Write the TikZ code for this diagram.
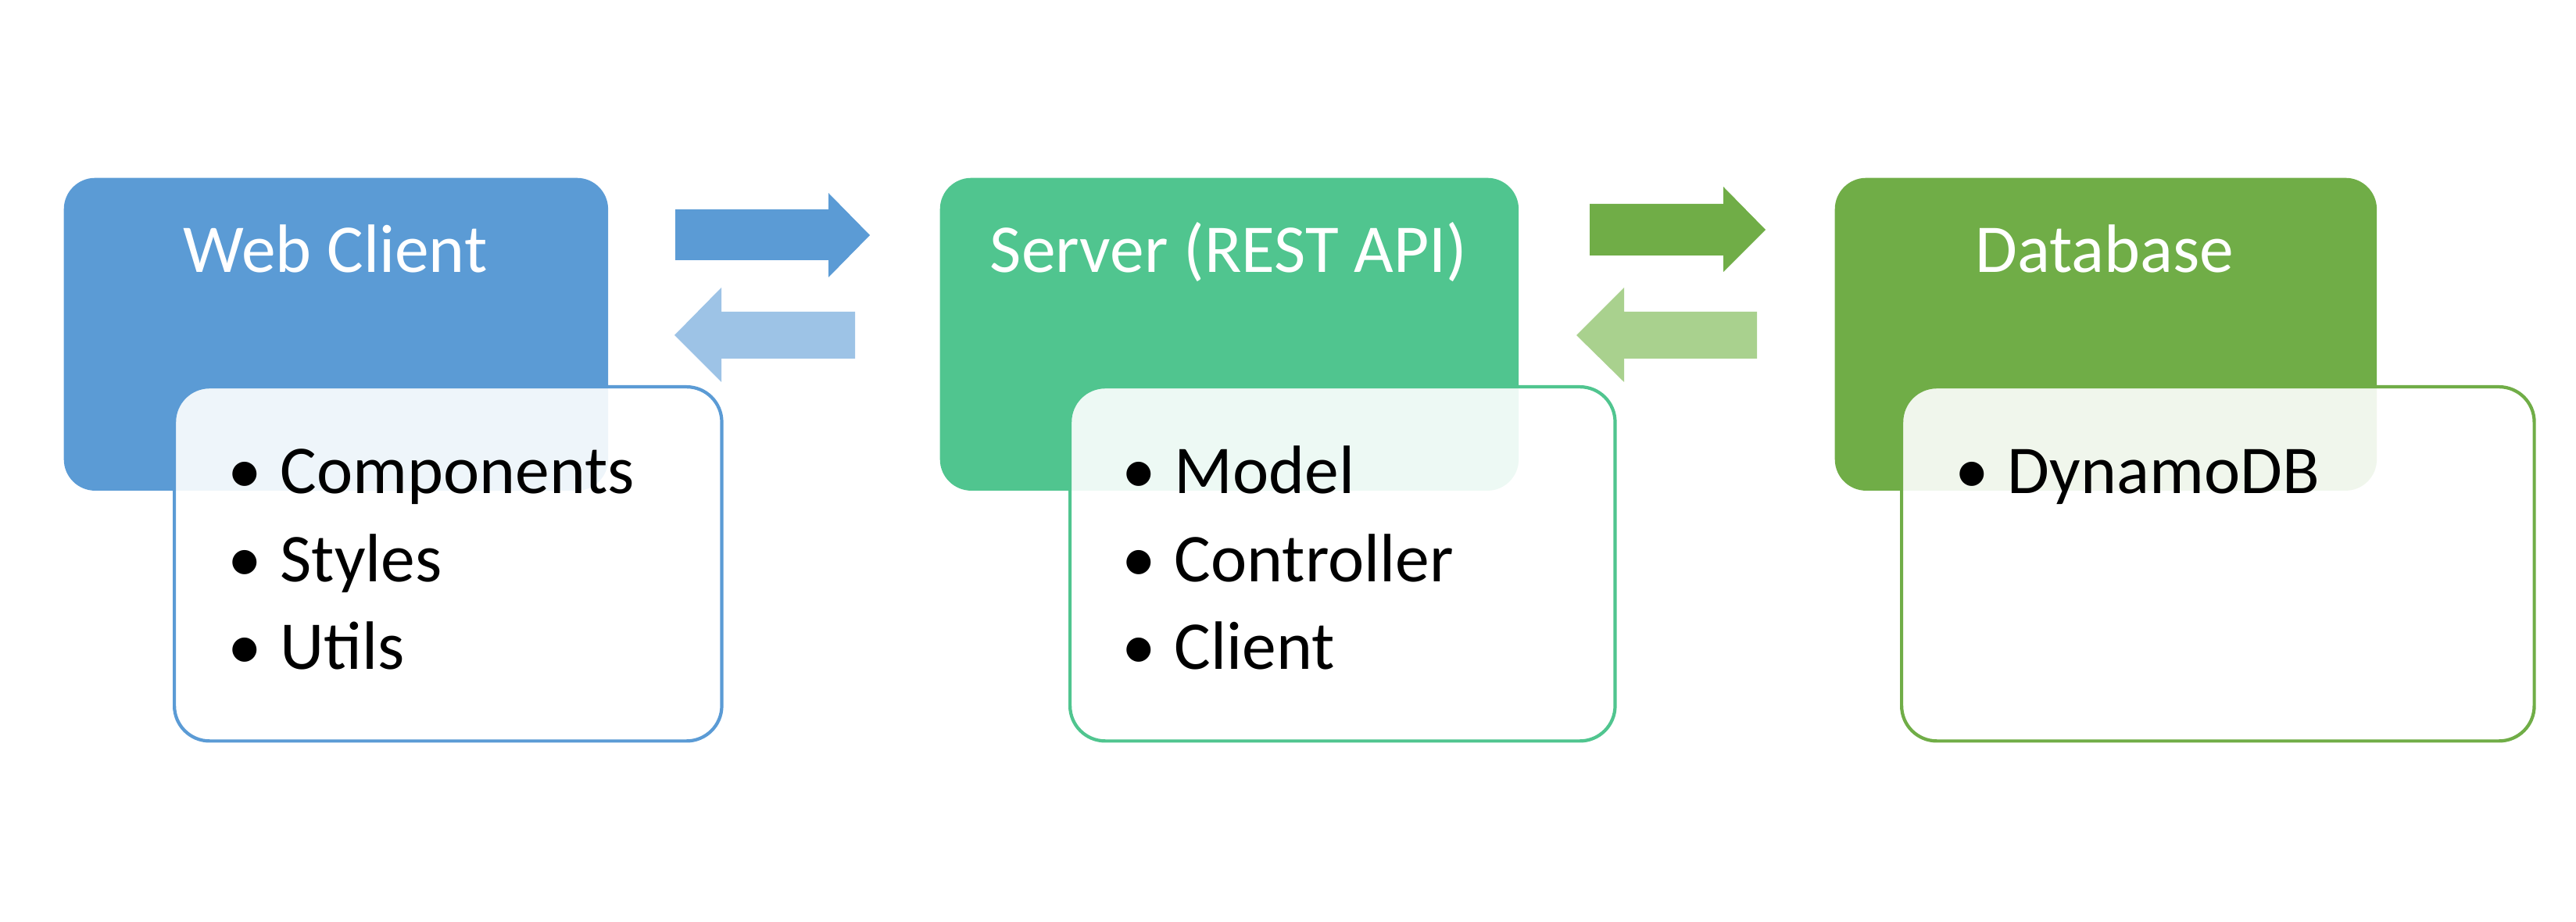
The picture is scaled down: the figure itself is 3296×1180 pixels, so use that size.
\documentclass[tikz,border=0pt]{standalone}
\usepackage{fontspec}
\setmainfont{Carlito}
\definecolor{cblue}{HTML}{5B9BD5}
\definecolor{clblue}{HTML}{9DC3E6}
\definecolor{cteal}{HTML}{50C58F}
\definecolor{cgreen}{HTML}{70AD47}
\definecolor{clgreen}{HTML}{A9D18E}
\tikzset{
  mainbox/.style={rectangle, rounded corners=0.4cm, anchor=north west, inner sep=0pt},
  listbox/.style={rectangle, rounded corners=0.45cm, anchor=north west, inner sep=0pt, fill=white, fill opacity=0.9, line width=1.2pt},
  title/.style={anchor=base, text=white, inner sep=0pt, font=\fontsize{24.9}{30}\selectfont},
  item/.style={anchor=base west, inner sep=0pt, text=black, font=\fontsize{24.9}{30}\selectfont},
}
\newcommand{\bul}[1]{\makebox[0.67cm][l]{\textbullet}#1}
\begin{document}
\begin{tikzpicture}[x=0.01cm, y=-0.01cm]
\useasboundingbox (0,0) rectangle (3296,1180);
% Web Client
\node[mainbox, fill=cblue, minimum width=6.96cm, minimum height=4.0cm] (wcbox) at (81,227) {};
\node[title] (wct) at (429,349) {Web Client};
\node[listbox, draw=cblue, minimum width=7.0cm, minimum height=4.53cm] (wclist) at (221,493) {};
\node[item] (wc1) at (291,632) {\bul{Components}};
\node[item] (wc2) at (291,745) {\bul{Styles}};
\node[item] (wc3) at (291,857) {\bul{Utils}};
% Server
\node[mainbox, fill=cteal, minimum width=7.4cm, minimum height=4.0cm] (svbox) at (1202,227) {};
\node[title] (svt) at (1572,349) {Server (REST API)};
\node[listbox, draw=cteal, minimum width=6.97cm, minimum height=4.53cm] (svlist) at (1367,493) {};
\node[item] (sv1) at (1435,632) {\bul{Model}};
\node[item] (sv2) at (1435,745) {\bul{Controller}};
\node[item] (sv3) at (1435,857) {\bul{Client}};
% Database
\node[mainbox, fill=cgreen, minimum width=6.93cm, minimum height=4.0cm] (dbbox) at (2347,227) {};
\node[title] (dbt) at (2693,349) {Database};
\node[listbox, draw=cgreen, minimum width=8.09cm, minimum height=4.53cm] (dblist) at (2431,493) {};
\node[item] (db1) at (2501,632) {\bul{DynamoDB}};
% Block arrows
\fill[cblue] (864,268) -- (1060,268) -- (1060,247) -- (1113,301) -- (1060,355) -- (1060,333) -- (864,333) -- cycle;
\fill[clblue] (1094,399) -- (923,399) -- (923,368) -- (863,429) -- (923,489) -- (923,459) -- (1094,459) -- cycle;
\fill[cgreen] (2034,261) -- (2205,261) -- (2205,239) -- (2259,294) -- (2205,348) -- (2205,327) -- (2034,327) -- cycle;
\fill[clgreen] (2248,399) -- (2078,399) -- (2078,368) -- (2017,429) -- (2078,489) -- (2078,459) -- (2248,459) -- cycle;
\end{tikzpicture}
\end{document}
